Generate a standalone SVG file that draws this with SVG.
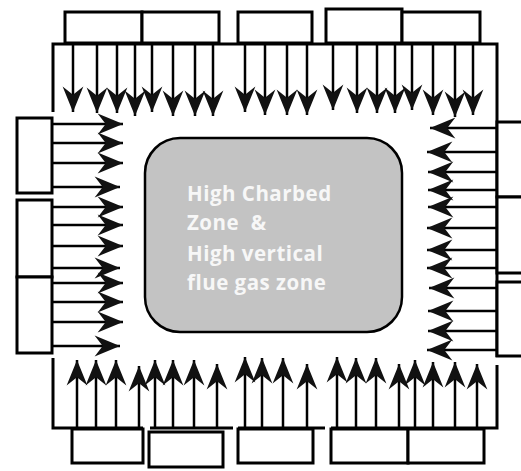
<svg xmlns="http://www.w3.org/2000/svg" width="521" height="471" viewBox="0 0 521 471">
<style>
.box{fill:#fff;stroke:#000;stroke-width:3}
.wall{fill:none;stroke:#000;stroke-width:3}
.ar{stroke:#000;stroke-width:2.5;fill:none;marker-end:url(#ah)}
.zone{fill:#c3c3c3;stroke:#000;stroke-width:2.5}
.lbl{font-family:"Open Sans","Noto Sans",sans-serif;font-weight:bold;font-size:20.5px;letter-spacing:0.5px;fill:#f7f7f7;white-space:pre}
</style>
<defs>
<marker id="ah" markerUnits="userSpaceOnUse" markerWidth="30" markerHeight="30" viewBox="-24 -12 26 24" refX="0" refY="0" orient="auto">
<path d="M0,0 L-22,-9 L-15,0 L-22,9 Z" fill="#111"/>
</marker>
</defs>
<rect width="521" height="471" fill="#fff"/>
<g id="walls">
<path class="wall" d="M53,112 V44 H497 V357 M497,365 V428 H331 M325,428 H238 M233,428 H150 M143,428 H53 V358"/>
</g>
<g id="top-burners">
<rect class="box" x="65" y="12" width="77" height="31"/>
<rect class="box" x="142" y="12" width="77" height="31"/>
<rect class="box" x="238" y="12" width="74" height="31"/>
<rect class="box" x="326" y="9" width="76" height="34"/>
<rect class="box" x="402" y="12" width="78" height="31"/>
</g>
<g id="left-burners">
<rect class="box" x="17" y="118" width="35" height="75"/>
<rect class="box" x="17" y="200" width="35" height="77"/>
<rect class="box" x="17" y="277" width="35" height="76"/>
</g>
<g id="right-burners">
<rect class="box" x="497" y="122" width="30" height="75"/>
<rect class="box" x="497" y="197" width="30" height="76"/>
<rect class="box" x="497" y="282" width="30" height="74"/>
</g>
<g id="bottom-burners">
<rect class="box" x="72" y="429" width="71" height="34"/>
<rect class="box" x="149" y="432" width="74" height="35"/>
<rect class="box" x="238" y="429" width="75" height="34"/>
<rect class="box" x="331" y="429" width="77" height="34"/>
<rect class="box" x="408" y="429" width="76" height="34"/>
</g>
<g id="connectors">
<line class="ar" x1="73" y1="45" x2="73" y2="112"/>
<line class="ar" x1="97" y1="45" x2="97" y2="113"/>
<line class="ar" x1="117" y1="45" x2="117" y2="113"/>
<line class="ar" x1="135" y1="45" x2="135" y2="116"/>
<line class="ar" x1="152" y1="45" x2="152" y2="112"/>
<line class="ar" x1="173" y1="45" x2="173" y2="116"/>
<line class="ar" x1="195" y1="45" x2="195" y2="116"/>
<line class="ar" x1="213" y1="45" x2="213" y2="116"/>
<line class="ar" x1="245" y1="45" x2="245" y2="112"/>
<line class="ar" x1="265" y1="45" x2="265" y2="115"/>
<line class="ar" x1="287" y1="45" x2="287" y2="115"/>
<line class="ar" x1="307" y1="45" x2="307" y2="115"/>
<line class="ar" x1="333" y1="45" x2="333" y2="110"/>
<line class="ar" x1="357" y1="45" x2="357" y2="113"/>
<line class="ar" x1="377" y1="45" x2="377" y2="113"/>
<line class="ar" x1="395" y1="45" x2="395" y2="113"/>
<line class="ar" x1="412" y1="45" x2="412" y2="110"/>
<line class="ar" x1="433" y1="45" x2="433" y2="115"/>
<line class="ar" x1="455" y1="45" x2="455" y2="117"/>
<line class="ar" x1="473" y1="45" x2="473" y2="115"/>
<line class="ar" x1="53" y1="124" x2="123" y2="124"/>
<line class="ar" x1="53" y1="143" x2="123" y2="143"/>
<line class="ar" x1="53" y1="163" x2="123" y2="163"/>
<line class="ar" x1="53" y1="187" x2="120" y2="187"/>
<line class="ar" x1="53" y1="207" x2="123" y2="207"/>
<line class="ar" x1="53" y1="225" x2="123" y2="225"/>
<line class="ar" x1="53" y1="246" x2="123" y2="246"/>
<line class="ar" x1="53" y1="268" x2="120" y2="268"/>
<line class="ar" x1="53" y1="283" x2="123" y2="283"/>
<line class="ar" x1="53" y1="302" x2="123" y2="302"/>
<line class="ar" x1="53" y1="322" x2="123" y2="322"/>
<line class="ar" x1="53" y1="346" x2="120" y2="346"/>
<line class="ar" x1="496" y1="128" x2="430" y2="128"/>
<line class="ar" x1="496" y1="152" x2="427" y2="152"/>
<line class="ar" x1="496" y1="172" x2="428" y2="172"/>
<line class="ar" x1="496" y1="190" x2="428" y2="190"/>
<line class="ar" x1="496" y1="207" x2="428" y2="207"/>
<line class="ar" x1="496" y1="228" x2="427" y2="228"/>
<line class="ar" x1="496" y1="250" x2="427" y2="250"/>
<line class="ar" x1="496" y1="268" x2="427" y2="268"/>
<line class="ar" x1="496" y1="288" x2="429" y2="288"/>
<line class="ar" x1="496" y1="311" x2="428" y2="311"/>
<line class="ar" x1="496" y1="331" x2="428" y2="331"/>
<line class="ar" x1="496" y1="350" x2="427" y2="350"/>
<line class="ar" x1="77" y1="427" x2="77" y2="360"/>
<line class="ar" x1="96" y1="427" x2="96" y2="360"/>
<line class="ar" x1="116" y1="427" x2="116" y2="360"/>
<line class="ar" x1="139" y1="427" x2="139" y2="366"/>
<line class="ar" x1="155" y1="427" x2="155" y2="360"/>
<line class="ar" x1="173" y1="427" x2="173" y2="360"/>
<line class="ar" x1="194" y1="427" x2="194" y2="360"/>
<line class="ar" x1="217" y1="427" x2="217" y2="364"/>
<line class="ar" x1="245" y1="427" x2="245" y2="357"/>
<line class="ar" x1="262" y1="427" x2="262" y2="358"/>
<line class="ar" x1="283" y1="427" x2="283" y2="358"/>
<line class="ar" x1="307" y1="427" x2="307" y2="364"/>
<line class="ar" x1="337" y1="427" x2="337" y2="357"/>
<line class="ar" x1="356" y1="427" x2="356" y2="358"/>
<line class="ar" x1="376" y1="427" x2="376" y2="358"/>
<line class="ar" x1="399" y1="427" x2="399" y2="364"/>
<line class="ar" x1="415" y1="427" x2="415" y2="360"/>
<line class="ar" x1="433" y1="427" x2="433" y2="362"/>
<line class="ar" x1="455" y1="427" x2="455" y2="362"/>
<line class="ar" x1="477" y1="427" x2="477" y2="364"/>
</g>
<g id="zone">
<rect class="zone" x="145" y="138" width="257" height="194" rx="35" ry="35"/>
<text class="lbl" x="187" y="201">High Charbed</text>
<text class="lbl" x="187" y="230">Zone  &amp;</text>
<text class="lbl" x="187" y="261">High vertical</text>
<text class="lbl" x="187" y="290">flue gas zone</text>
</g>
</svg>
